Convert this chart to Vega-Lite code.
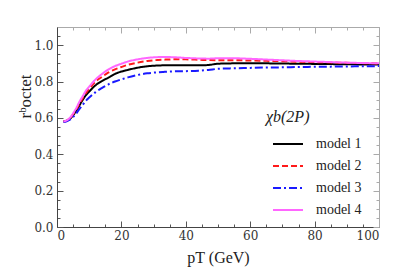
{
  "$schema": "https://vega.github.io/schema/vega-lite/v6.json",
  "width": 322,
  "height": 200,
  "autosize": {"type": "none"},
  "padding": {"left": 57, "top": 27, "right": 28, "bottom": 50},
  "background": "white",
  "config": {
    "view": {"stroke": "#aaaaaa", "strokeWidth": 1},
    "font": "DejaVu Serif",
    "axis": {"labelFont": "DejaVu Serif", "titleFont": "Times New Roman", "labelColor": "#333", "titleColor": "#222", "labelFontSize": 12, "titleFontWeight": "normal", "grid": false}
  },
  "data": {"values": [
    {"pT": 2, "model 1": 0.58, "model 2": 0.58, "model 3": 0.578, "model 4": 0.58},
    {"pT": 3, "model 1": 0.585, "model 2": 0.585, "model 3": 0.582, "model 4": 0.586},
    {"pT": 4, "model 1": 0.595, "model 2": 0.597, "model 3": 0.59, "model 4": 0.6},
    {"pT": 5, "model 1": 0.615, "model 2": 0.62, "model 3": 0.605, "model 4": 0.625},
    {"pT": 6, "model 1": 0.64, "model 2": 0.648, "model 3": 0.625, "model 4": 0.655},
    {"pT": 7, "model 1": 0.67, "model 2": 0.68, "model 3": 0.65, "model 4": 0.69},
    {"pT": 8, "model 1": 0.7, "model 2": 0.71, "model 3": 0.672, "model 4": 0.72},
    {"pT": 9, "model 1": 0.725, "model 2": 0.738, "model 3": 0.695, "model 4": 0.75},
    {"pT": 10, "model 1": 0.745, "model 2": 0.76, "model 3": 0.712, "model 4": 0.772},
    {"pT": 12, "model 1": 0.78, "model 2": 0.8, "model 3": 0.742, "model 4": 0.812},
    {"pT": 14, "model 1": 0.803, "model 2": 0.826, "model 3": 0.765, "model 4": 0.842},
    {"pT": 16, "model 1": 0.822, "model 2": 0.85, "model 3": 0.785, "model 4": 0.867},
    {"pT": 18, "model 1": 0.842, "model 2": 0.867, "model 3": 0.8, "model 4": 0.885},
    {"pT": 20, "model 1": 0.855, "model 2": 0.88, "model 3": 0.812, "model 4": 0.898},
    {"pT": 22, "model 1": 0.864, "model 2": 0.892, "model 3": 0.823, "model 4": 0.91},
    {"pT": 25, "model 1": 0.876, "model 2": 0.904, "model 3": 0.836, "model 4": 0.922},
    {"pT": 28, "model 1": 0.884, "model 2": 0.913, "model 3": 0.845, "model 4": 0.93},
    {"pT": 30, "model 1": 0.887, "model 2": 0.917, "model 3": 0.849, "model 4": 0.933},
    {"pT": 33, "model 1": 0.889, "model 2": 0.92, "model 3": 0.853, "model 4": 0.935},
    {"pT": 36, "model 1": 0.889, "model 2": 0.922, "model 3": 0.856, "model 4": 0.934},
    {"pT": 40, "model 1": 0.889, "model 2": 0.922, "model 3": 0.857, "model 4": 0.93},
    {"pT": 44, "model 1": 0.889, "model 2": 0.92, "model 3": 0.86, "model 4": 0.927},
    {"pT": 47, "model 1": 0.891, "model 2": 0.918, "model 3": 0.864, "model 4": 0.926},
    {"pT": 50, "model 1": 0.898, "model 2": 0.917, "model 3": 0.87, "model 4": 0.928},
    {"pT": 55, "model 1": 0.9, "model 2": 0.917, "model 3": 0.873, "model 4": 0.928},
    {"pT": 60, "model 1": 0.9, "model 2": 0.916, "model 3": 0.875, "model 4": 0.925},
    {"pT": 65, "model 1": 0.9, "model 2": 0.914, "model 3": 0.877, "model 4": 0.921},
    {"pT": 70, "model 1": 0.899, "model 2": 0.912, "model 3": 0.878, "model 4": 0.917},
    {"pT": 75, "model 1": 0.898, "model 2": 0.909, "model 3": 0.88, "model 4": 0.913},
    {"pT": 80, "model 1": 0.897, "model 2": 0.907, "model 3": 0.881, "model 4": 0.91},
    {"pT": 85, "model 1": 0.896, "model 2": 0.905, "model 3": 0.882, "model 4": 0.907},
    {"pT": 90, "model 1": 0.895, "model 2": 0.903, "model 3": 0.883, "model 4": 0.904},
    {"pT": 95, "model 1": 0.894, "model 2": 0.901, "model 3": 0.884, "model 4": 0.902},
    {"pT": 100, "model 1": 0.893, "model 2": 0.899, "model 3": 0.885, "model 4": 0.9}
  ]},
  "transform": [{"fold": ["model 1", "model 2", "model 3", "model 4"], "as": ["model", "r"]}],
  "layer": [
    {
      "mark": {"type": "line", "interpolate": "monotone"},
      "encoding": {
        "x": {"field": "pT", "type": "quantitative", "scale": {"domain": [0, 100], "nice": false},
          "axis": {"values": [0,5,10,15,20,25,30,35,40,45,50,55,60,65,70,75,80,85,90,95,100],
            "labelExpr": "datum.value % 20 === 0 ? datum.label : ''",
            "tickSize": {"condition": {"test": "datum.value % 20 === 0", "value": -6}, "value": -3},
            "tickColor": "#555", "domainColor": "#444", "labelPadding": 9,
            "title": "pT    (GeV)", "titleFontSize": 16, "titlePadding": 8}},
        "y": {"field": "r", "type": "quantitative", "scale": {"domain": [0, 1.1], "nice": false},
          "axis": {"values": [0,0.05,0.1,0.15,0.2,0.25,0.3,0.35,0.4,0.45,0.5,0.55,0.6,0.65,0.7,0.75,0.8,0.85,0.9,0.95,1.0,1.05],
            "labelExpr": "abs(datum.value*10 - round(datum.value*10)) < 0.001 && round(datum.value*10) % 2 === 0 ? format(datum.value, '.1f') : ''",
            "tickSize": {"condition": {"test": "abs(datum.value*10 - round(datum.value*10)) < 0.001 && round(datum.value*10) % 2 === 0", "value": -6}, "value": -3},
            "tickColor": "#555", "domainColor": "#444", "labelPadding": 10,
            "title": "rᵇoctet", "titleFontSize": 17, "titleX": -32, "titleY": 69, "titleBaseline": "middle", "titleAlign": "center"}},
        "color": {"field": "model", "type": "nominal",
          "scale": {"domain": ["model 1", "model 2", "model 3", "model 4"], "range": ["#000000", "#ff1a1a", "#1a1aff", "#ff66ff"]},
          "legend": {"title": "χb(2P)", "orient": "none", "legendX": 209, "legendY": 82,
            "titleFont": "serif", "titleFontStyle": "italic", "titleFontWeight": "normal", "titleFontSize": 16, "titleColor": "#222", "titlePadding": 12,
            "labelFont": "Liberation Serif", "labelFontSize": 14, "labelColor": "#222", "labelOffset": 36,
            "symbolType": "M0,0H6", "symbolSize": 100, "rowPadding": 8}},
        "strokeDash": {"field": "model", "type": "nominal",
          "scale": {"domain": ["model 1", "model 2", "model 3", "model 4"], "range": [[1, 0], [6, 3], [8, 3, 2, 3], [1, 0]]},
          "legend": null},
        "strokeWidth": {"field": "model", "type": "nominal",
          "scale": {"domain": ["model 1", "model 2", "model 3", "model 4"], "range": [2, 2, 2, 1.2]},
          "legend": null}
      }
    },
    {
      "mark": {"type": "line", "opacity": 0},
      "encoding": {
        "x": {"field": "pT", "type": "quantitative",
          "axis": {"orient": "top", "values": [0,5,10,15,20,25,30,35,40,45,50,55,60,65,70,75,80,85,90,95,100], "labels": false, "title": null,
            "tickSize": {"condition": {"test": "datum.value % 20 === 0", "value": -6}, "value": -3},
            "tickColor": "#aaa", "domainColor": "#aaa"}},
        "y": {"field": "r", "type": "quantitative",
          "axis": {"orient": "right", "values": [0,0.05,0.1,0.15,0.2,0.25,0.3,0.35,0.4,0.45,0.5,0.55,0.6,0.65,0.7,0.75,0.8,0.85,0.9,0.95,1.0,1.05], "labels": false, "title": null,
            "tickSize": {"condition": {"test": "abs(datum.value*10 - round(datum.value*10)) < 0.001 && round(datum.value*10) % 2 === 0", "value": -6}, "value": -3},
            "tickColor": "#aaa", "domainColor": "#aaa"}},
        "detail": {"field": "model"}
      }
    }
  ],
  "resolve": {"axis": {"x": "independent", "y": "independent"}}
}
